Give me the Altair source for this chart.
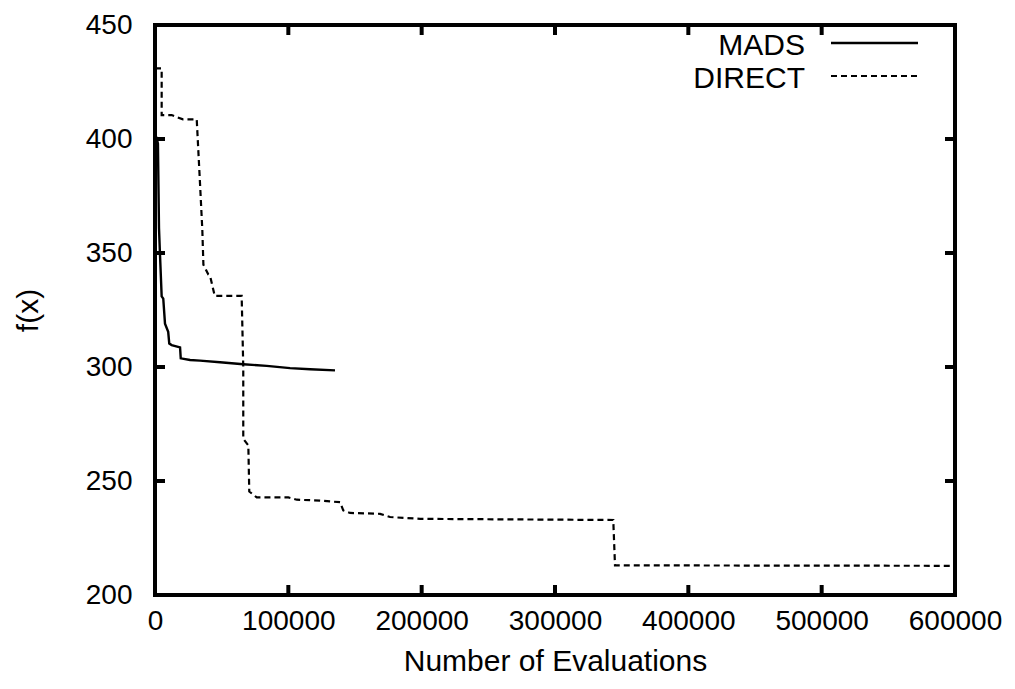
import altair as alt
import pandas as pd

# ---- data ----
mads_evals = [1000, 2200, 3000, 3700, 5000, 6200, 7500, 9900, 10700, 12500,
              18800, 19300, 26300, 33800, 48800, 66200, 83800, 101300, 116300, 135000]
mads_f = [401, 398, 361, 350, 331, 330, 319, 315.4, 310.3, 309.6,
          308.6, 303.8, 303.1, 302.8, 302.1, 301.2, 300.5, 299.5, 299.0, 298.5]

direct_evals = [0, 5000, 5000, 12500, 21000, 31300, 33800, 35500, 36300, 40000,
                41300, 44800, 65000, 66200, 66200, 70000, 70700, 76300, 100000, 106300,
                123800, 138800, 141200, 146300, 168800, 176300, 198800, 343700, 345000, 600000]
direct_f = [431, 431, 410.5, 410.5, 408.6, 408.6, 380, 360, 344.9, 340.6,
            340, 331.2, 331.2, 300, 268.5, 265.6, 245.4, 242.8, 242.8, 241.8,
            241.4, 240.7, 237.1, 236.0, 235.6, 234.2, 233.4, 232.9, 213.0, 212.8]

x_ticks = [0, 100000, 200000, 300000, 400000, 500000, 600000]
y_ticks = [200, 250, 300, 350, 400, 450]
series_names = ["MADS", "DIRECT"]

W, H = 800, 570
FONT = "Liberation Sans"
FS = 28      # tick labels
FS2 = 30     # titles and key

mads_df = pd.DataFrame({"evals": mads_evals, "f": mads_f, "i": range(len(mads_f))})
direct_df = pd.DataFrame({"evals": direct_evals, "f": direct_f, "i": range(len(direct_f))})
xt_df = pd.DataFrame({"v": x_ticks})
yt_df = pd.DataFrame({"v": y_ticks})
one = pd.DataFrame({"a": [0]})

xscale = alt.Scale(domain=[0, 600000], nice=False, zero=False)
yscale = alt.Scale(domain=[200, 450], nice=False, zero=False)

xaxis = alt.Axis(values=x_ticks, format="d", ticks=False, domain=False, grid=False,
                 labelFont=FONT, labelFontSize=FS, labelColor="black", labelPadding=12,
                 labelFlush=False, labelOverlap=False,
                 title="Number of Evaluations", titleFont=FONT, titleFontSize=FS2,
                 titleFontWeight="normal", titleColor="black",
                 titleX=W / 2, titleY=66, titleAlign="center", titleBaseline="middle")
yaxis = alt.Axis(values=y_ticks, ticks=False, domain=False, grid=False,
                 labelFont=FONT, labelFontSize=FS, labelColor="black", labelPadding=23,
                 labelFlush=False, labelOverlap=False,
                 title="f(x)", titleFont=FONT, titleFontSize=FS2,
                 titleFontWeight="normal", titleColor="black",
                 titleX=-127, titleY=H / 2, titleAngle=270,
                 titleAlign="center", titleBaseline="middle")

mads = alt.Chart(mads_df).mark_line(color="black", strokeWidth=2.4, clip=True).encode(
    x=alt.X("evals:Q", scale=xscale, axis=xaxis),
    y=alt.Y("f:Q", scale=yscale, axis=yaxis),
    order="i:Q",
)
direct = alt.Chart(direct_df).mark_line(color="black", strokeWidth=2.2, strokeDash=[6, 4],
                                        clip=True).encode(
    x=alt.X("evals:Q", scale=xscale),
    y=alt.Y("f:Q", scale=yscale),
    order="i:Q",
)

TL = 10
tick_style = dict(color="black", strokeWidth=4)
yt_left = alt.Chart(yt_df).mark_rule(**tick_style).encode(
    y=alt.Y("v:Q", scale=yscale), x=alt.value(0), x2=alt.value(TL))
yt_right = alt.Chart(yt_df).mark_rule(**tick_style).encode(
    y=alt.Y("v:Q", scale=yscale), x=alt.value(W - TL), x2=alt.value(W))
xt_bottom = alt.Chart(xt_df).mark_rule(**tick_style).encode(
    x=alt.X("v:Q", scale=xscale), y=alt.value(H - TL), y2=alt.value(H))
xt_top = alt.Chart(xt_df).mark_rule(**tick_style).encode(
    x=alt.X("v:Q", scale=xscale), y=alt.value(0), y2=alt.value(TL))

# key in the top right corner
leg_text_mads = alt.Chart(one).mark_text(
    text=series_names[0], font=FONT, fontSize=FS2, align="right", baseline="middle",
    color="black").encode(x=alt.value(650), y=alt.value(21))
leg_text_direct = alt.Chart(one).mark_text(
    text=series_names[1], font=FONT, fontSize=FS2, align="right", baseline="middle",
    color="black").encode(x=alt.value(650), y=alt.value(54))
leg_line_mads = alt.Chart(one).mark_rule(color="black", strokeWidth=2.4).encode(
    x=alt.value(676), x2=alt.value(763), y=alt.value(18))
leg_line_direct = alt.Chart(one).mark_rule(color="black", strokeWidth=2.2,
                                           strokeDash=[6, 4]).encode(
    x=alt.value(676), x2=alt.value(763), y=alt.value(51))

chart = alt.layer(
    direct, mads, yt_left, yt_right, xt_bottom, xt_top,
    leg_text_mads, leg_text_direct, leg_line_mads, leg_line_direct,
).properties(
    width=W, height=H,
    autosize=alt.AutoSizeParams(type="none"),
    padding={"left": 147, "top": 17, "right": 50, "bottom": 84},
    background="white",
).configure_view(
    stroke="black", strokeWidth=4,
)

chart.save("out.html", embed_options={"renderer": "svg", "actions": False})
